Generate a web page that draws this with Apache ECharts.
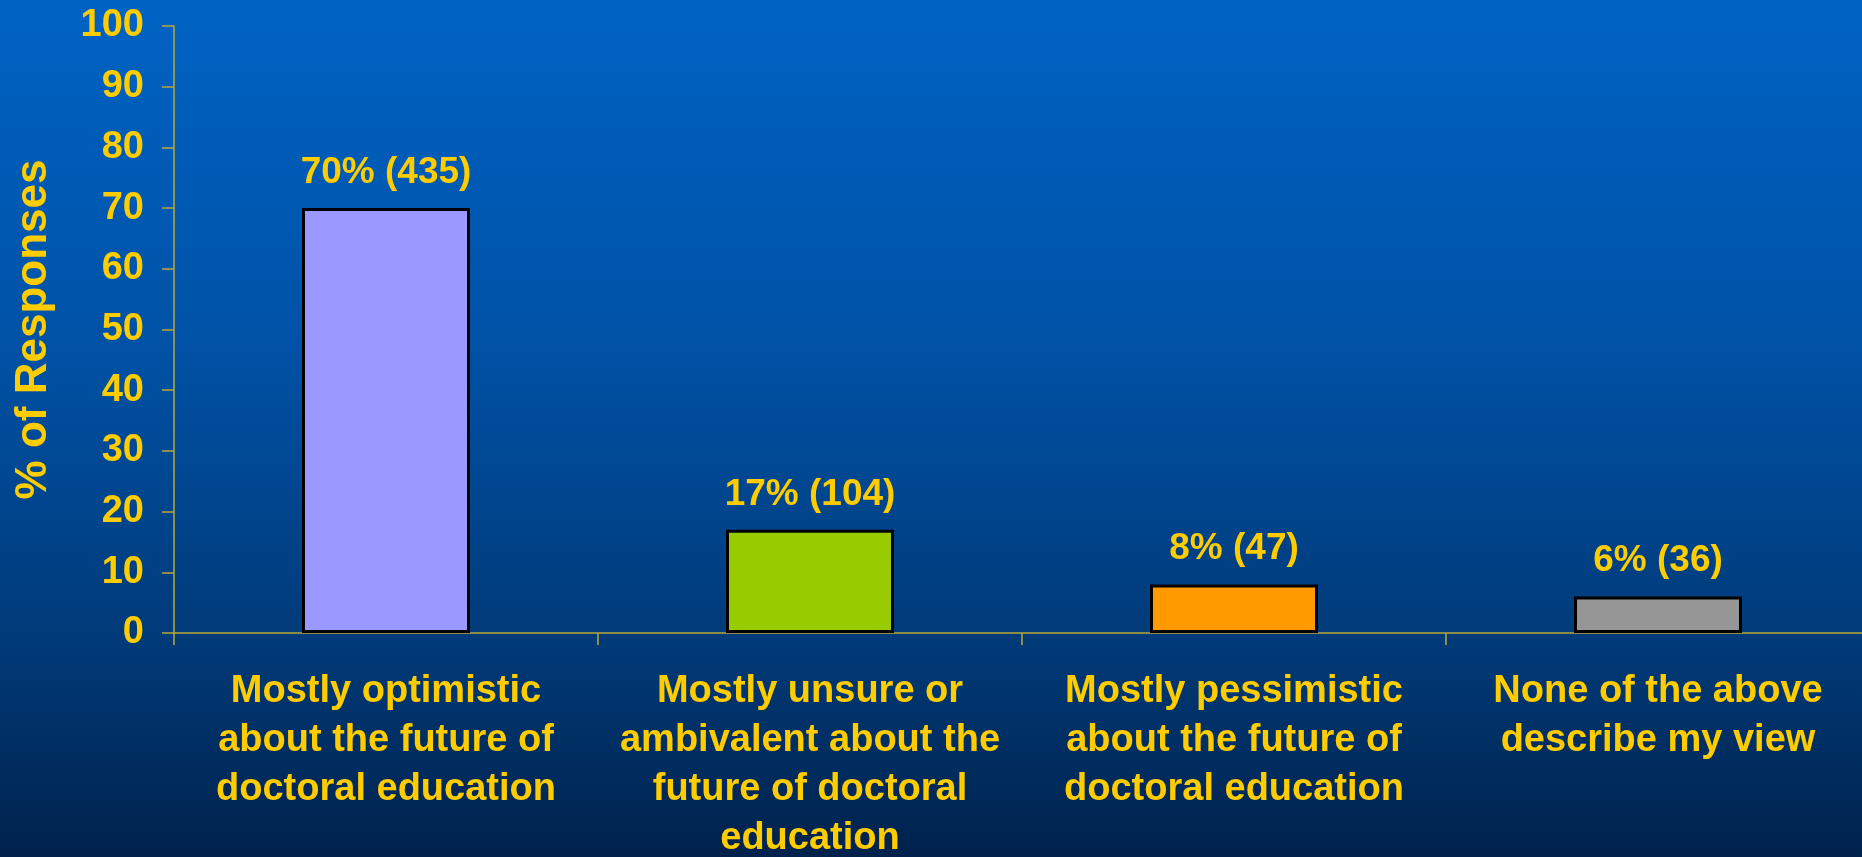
<!DOCTYPE html>
<html>
<head>
<meta charset="utf-8">
<script src="https://cdn.jsdelivr.net/npm/echarts@6/dist/echarts.min.js"></script>
<style>
  html, body { margin: 0; padding: 0; width: 1862px; height: 857px; overflow: hidden; }
  #chart { width: 1862px; height: 857px; }
</style>
</head>
<body>
<div id="chart"></div>
<script>
// Survey responses: outlook on the future of doctoral education
const categories = [
  'Mostly optimistic\nabout the future of\ndoctoral education',
  'Mostly unsure or\nambivalent about the\nfuture of doctoral\neducation',
  'Mostly pessimistic\nabout the future of\ndoctoral education',
  'None of the above\ndescribe my view'
];
const percents = [70, 17, 8, 6];
const counts = [435, 104, 47, 36];
const barColors = ['#9999FF', '#99CC00', '#FF9900', '#969696'];
const yTicks = [0, 10, 20, 30, 40, 50, 60, 70, 80, 90, 100];

const gold = '#FFCC00';
const font = '"Liberation Sans", Arial, sans-serif';

const chart = echarts.init(document.getElementById('chart'), null, { renderer: 'canvas' });

chart.setOption({
  backgroundColor: {
    type: 'linear', x: 0, y: 0, x2: 0, y2: 1,
    colorStops: [
      { offset: 0, color: '#0063C4' },
      { offset: 0.4, color: '#0052A6' },
      { offset: 0.75, color: '#003A78' },
      { offset: 1, color: '#00224C' }
    ]
  },
  animation: false,
  // plot area runs past the right edge; keep it fixed rather than fitted to labels
  grid: { left: 174, top: 26, width: 1696, bottom: 224, outerBoundsMode: 'none', containLabel: false },
  xAxis: {
    type: 'category',
    data: categories,
    axisLine: { show: true, lineStyle: { color: '#B8A838', width: 1.5 } },
    axisTick: { show: true, alignWithLabel: false, length: 12, lineStyle: { color: '#B8A838', width: 1.5 } },
    axisLabel: {
      color: gold, fontFamily: font, fontWeight: 'bold', fontSize: 38,
      lineHeight: 49, margin: 34, interval: 0
    }
  },
  yAxis: {
    type: 'value',
    min: yTicks[0], max: yTicks[yTicks.length - 1], interval: 10,
    name: '% of Responses',
    nameLocation: 'middle',
    nameRotate: 90,
    nameGap: 118,
    nameTextStyle: { color: gold, fontFamily: font, fontWeight: 'bold', fontSize: 44 },
    splitLine: { show: false },
    axisLine: { show: true, lineStyle: { color: '#B8A838', width: 1.5 } },
    axisTick: { show: true, length: 12, lineStyle: { color: '#B8A838', width: 1.5 } },
    axisLabel: {
      color: gold, fontFamily: font, fontWeight: 'bold', fontSize: 38, margin: 30
    }
  },
  series: [{
    type: 'bar',
    barWidth: 168,
    data: percents.map((v, i) => ({
      value: v,
      itemStyle: { color: barColors[i], borderColor: '#000000', borderWidth: 3 }
    })),
    label: {
      show: true,
      position: 'top',
      distance: 17,
      color: gold,
      fontFamily: font,
      fontWeight: 'bold',
      fontSize: 37,
      formatter: p => p.value + '% (' + counts[p.dataIndex] + ')'
    }
  }]
});
</script>
</body>
</html>
